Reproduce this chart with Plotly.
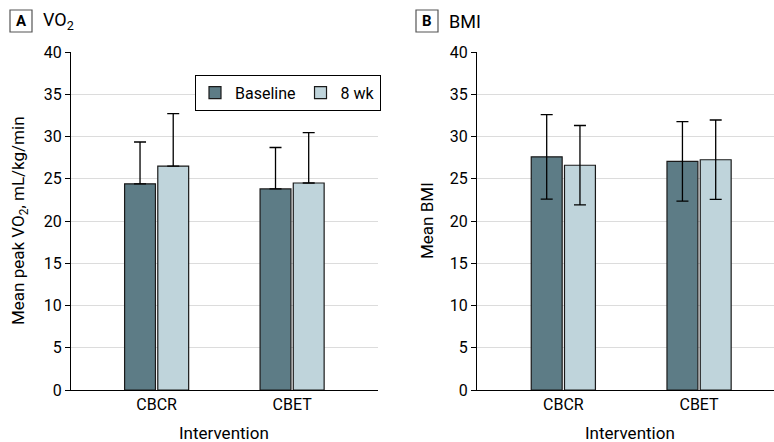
import plotly.graph_objects as go

categories = ["CBCR", "CBET"]
series_names = ["Baseline", "8 wk"]
vo2_baseline = [24.4, 23.8]
vo2_8wk = [26.5, 24.5]
vo2_sd_baseline = [4.95, 4.9]
vo2_sd_8wk = [6.2, 5.95]
bmi_baseline = [27.6, 27.05]
bmi_8wk = [26.6, 27.25]
bmi_sd_baseline = [5.0, 4.7]
bmi_sd_8wk = [4.7, 4.7]
y_ticks = [0, 5, 10, 15, 20, 25, 30, 35, 40]

FONT = "Roboto, sans-serif"
C_BASE = "#5d7c86"
C_8WK = "#bfd4db"
W, H = 774, 442

def px_x(p):
    return p / W

def px_y(p):
    return 1 - p / H

fig = go.Figure()

def add_bar(x, y, sd, color, name, xa, ya, show, up_only):
    err = dict(type="data", array=sd, color="black", thickness=1.3, width=6, visible=True)
    if up_only:
        err.update(symmetric=False, arrayminus=[0] * len(sd))
    fig.add_trace(go.Bar(
        x=x, y=y, name=name, marker=dict(color=color, line=dict(color="#1a1a1a", width=1.2)),
        error_y=err, xaxis=xa, yaxis=ya, showlegend=show, legendgroup=name,
    ))

add_bar(categories, vo2_baseline, vo2_sd_baseline, C_BASE, series_names[0], "x", "y", True, True)
add_bar(categories, vo2_8wk, vo2_sd_8wk, C_8WK, series_names[1], "x", "y", True, True)
add_bar(categories, bmi_baseline, bmi_sd_baseline, C_BASE, series_names[0], "x2", "y2", False, False)
add_bar(categories, bmi_8wk, bmi_sd_8wk, C_8WK, series_names[1], "x2", "y2", False, False)

yax = dict(range=[0, 40], tickvals=y_ticks, showgrid=True, gridcolor="#dcdcdc", gridwidth=1.2,
           showline=True, linecolor="black", linewidth=1.2, ticks="outside", ticklen=5,
           tickcolor="black", tickfont=dict(family=FONT, size=16, color="black"), zeroline=False,
           automargin=False)
xax = dict(showline=True, linecolor="black", linewidth=1.2, ticks="", showgrid=False,
           tickfont=dict(family=FONT, size=16, color="black"), type="category", automargin=False)

top, bottom = 52, 390
fig.update_layout(
    width=W, height=H, margin=dict(l=0, r=0, t=0, b=0, autoexpand=False),
    plot_bgcolor="white", paper_bgcolor="white",
    barmode="group", bargap=0.51, bargroupgap=0.07,
    xaxis=dict(xax, domain=[px_x(71), px_x(378)], range=[-0.632, 1.634], anchor="y"),
    yaxis=dict(yax, domain=[px_y(bottom), px_y(top)], anchor="x"),
    xaxis2=dict(xax, domain=[px_x(477), 1.0], range=[-0.636, 1.552], anchor="y2"),
    yaxis2=dict(yax, domain=[px_y(bottom), px_y(top)], anchor="x2"),
    legend=dict(orientation="h", x=px_x(195), y=px_y(93), xanchor="left", yanchor="middle",
                bordercolor="black", borderwidth=1.2, bgcolor="white",
                font=dict(family=FONT, size=16, color="black"), itemwidth=30),
    showlegend=True,
    font=dict(family=FONT, color="black"),
)

annotations = [
    dict(text="<b>A</b>", x=px_x(21), y=px_y(21), font=dict(size=15)),
    dict(text="VO<sub>2</sub>", x=px_x(41), y=px_y(21), xanchor="left", font=dict(size=18)),
    dict(text="<b>B</b>", x=px_x(427), y=px_y(21), font=dict(size=15)),
    dict(text="BMI", x=px_x(447), y=px_y(21), xanchor="left", font=dict(size=18)),
    dict(text="Mean peak VO<sub>2</sub>, mL/kg/min", x=px_x(19), y=px_y(221), textangle=-90, font=dict(size=17)),
    dict(text="Mean BMI", x=px_x(427), y=px_y(221), textangle=-90, font=dict(size=17)),
    dict(text="Intervention", x=px_x(224), y=px_y(433), font=dict(size=17)),
    dict(text="Intervention", x=px_x(630), y=px_y(433), font=dict(size=17)),
]
for a in annotations:
    a.update(xref="paper", yref="paper", showarrow=False)
    a.setdefault("xanchor", "center")
    a["yanchor"] = "middle"
    fig.add_annotation(**a)

for x0, x1 in [(10, 32), (416, 438)]:
    fig.add_shape(type="rect", xref="paper", yref="paper", x0=px_x(x0), x1=px_x(x1),
                  y0=px_y(32), y1=px_y(10), line=dict(color="#555555", width=1.2))

fig.write_html("out.html")
